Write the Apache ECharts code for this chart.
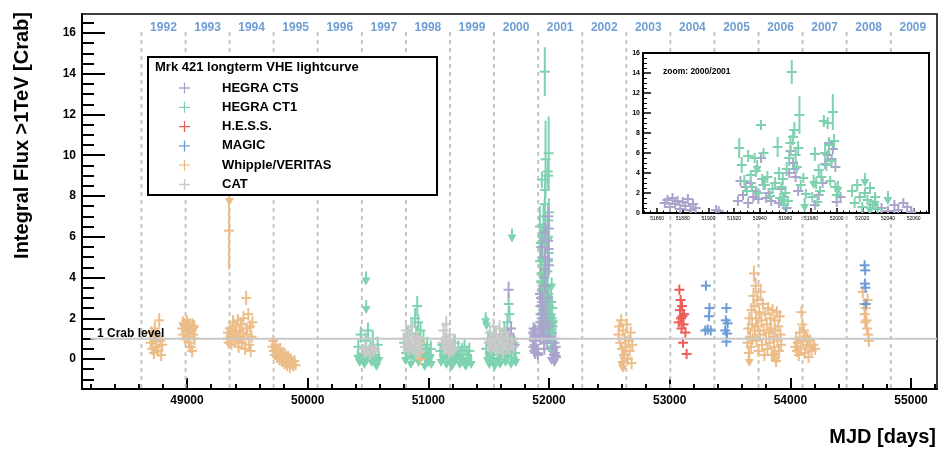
<!DOCTYPE html>
<html><head><meta charset="utf-8">
<script src="https://cdn.jsdelivr.net/npm/echarts@6/dist/echarts.min.js"></script>
<style>html,body{margin:0;padding:0;background:#fff}#c{width:939px;height:452px}</style>
</head><body><div id="c"></div><script>
// ---------------- data (MJD, flux [Crab], error) ----------------
const seriesNames = ['HEGRA CTS', 'HEGRA CT1', 'H.E.S.S.', 'MAGIC', 'Whipple/VERITAS', 'CAT'];
const seriesColors = ['#aaa5cc', '#7fd2af', '#ec5d58', '#6b9cd8', '#ecbd89', '#c9c9c9'];

const ctsPts = [
  [51665,3.4,0.4],[51660,1.2,0.3],[51675,0.8,0.3],[51685,1.5,0.35],[51695,0.6,0.3],[51705,1.0,0.3],[51715,0.7,0.3],
  [51866,1.0,0.3],[51868,1.3,0.3],[51870,0.6,0.3],[51872,1.5,0.3],[51874,0.9,0.3],[51876,1.2,0.3],[51878,0.4,0.3],
  [51880,1.1,0.3],[51882,0.7,0.3],[51884,1.4,0.3],[51886,0.3,0.3],[51888,0.9,0.3],[51890,0.5,0.3],[51906,0.3,0.2],[51908,0.2,0.2],
  [51923,1.2,0.3],[51925,3.2,0.4],[51927,1.8,0.3],[51929,2.6,0.4],[51931,1.0,0.3],[51933,3.0,0.4],[51935,1.6,0.3],
  [51937,2.2,0.3],[51939,1.4,0.3],[51941,5.5,0.5],[51943,2.8,0.4],[51945,1.5,0.3],[51947,2.0,0.3],[51949,1.2,0.3],
  [51955,1.0,0.3],[51957,2.4,0.4],[51959,1.6,0.3],[51961,0.5,0.3],[51963,4.0,0.5],[51964,6.2,0.5],[51966,5.0,0.5],
  [51967,4.4,0.5],[51968,3.6,0.4],[51970,2.2,0.4],
  [51983,0.8,0.3],[51986,1.8,0.3],[51989,3.0,0.4],[51991,4.9,0.5],[51993,5.8,0.5],[51994,7.0,0.5],[51996,5.4,0.5],
  [51997,6.4,0.5],[51999,4.6,0.5],[52000,1.1,0.3],[52003,1.6,0.3],
  [52035,0.5,0.3],[52040,0.2,0.3],[52045,0.8,0.3],[52048,0.3,0.3],[52052,1.0,0.3],[52055,0.6,0.3],[52058,0.1,0.3]
];
const ctsUL = [[52020,0.4],[52045,0.3],[52060,0.5]];

const ct1Pts = [
  [50420,0.6,0.4],[50440,1.2,0.4],[50460,0.3,0.4],[50480,0.9,0.4],[50500,1.4,0.4],[50520,0.5,0.4],[50540,1.0,0.4],[50560,0.2,0.4],[50580,0.7,0.4],
  [50800,0.8,0.4],[50815,0.3,0.4],[50830,1.2,0.4],[50845,0.6,0.4],[50860,1.6,0.4],[50875,0.4,0.4],[50890,2.0,0.5],[50900,1.1,0.4],
  [50908,2.6,0.5],[50915,1.8,0.4],[50925,0.9,0.4],[50935,1.4,0.4],[50945,0.5,0.4],[50960,1.0,0.4],[50975,0.3,0.4],[50990,0.7,0.4],[51005,0.2,0.4],[51020,0.5,0.4],
  [51100,0.4,0.4],[51115,0.7,0.4],[51130,0.2,0.4],[51145,0.9,0.4],[51160,0.5,0.4],[51175,0.1,0.4],[51190,0.6,0.4],[51205,0.3,0.4],
  [51220,0.8,0.4],[51235,0.2,0.4],[51250,0.5,0.4],[51265,0.0,0.4],[51280,0.4,0.4],[51300,0.6,0.4],[51320,0.2,0.4],[51340,0.4,0.4],
  [51480,0.5,0.4],[51495,1.0,0.4],[51510,0.3,0.4],[51525,0.8,0.4],[51540,0.4,0.4],[51555,1.2,0.4],[51570,0.6,0.4],[51585,0.2,0.4],
  [51600,0.9,0.4],[51615,0.4,0.4],[51630,1.4,0.4],[51645,0.7,0.4],[51655,1.8,0.4],[51665,2.7,0.5],[51672,2.2,0.4],[51680,1.1,0.4],
  [51690,0.5,0.4],[51705,0.8,0.4],[51720,0.3,0.4],
  [51924,6.5,1.0],[51926,4.8,0.8],[51928,3.2,0.6],[51930,2.2,0.5],[51931,5.7,0.6],[51933,3.8,0.5],[51934,2.6,0.5],[51936,5.5,0.5],
  [51937,4.2,0.6],[51939,2.0,0.5],[51941,8.8,0.4],[51942,3.4,0.5],[51943,6.0,0.5],[51944,2.8,0.5],[51946,3.6,0.6],[51948,1.7,0.4],[51950,2.4,0.5],
  [51952,3.0,0.6],[51954,6.6,1.0],[51955,4.0,0.6],[51956,1.5,0.5],[51957,2.6,0.5],[51958,3.4,0.6],[51959,0.8,0.4],[51960,2.0,0.5],
  [51961,4.4,0.7],[51962,1.2,0.5],[51963,5.5,0.8],[51964,7.0,0.8],[51965,14.1,1.2],[51966,7.6,0.8],[51967,8.3,0.8],[51968,5.8,0.7],
  [51969,4.6,0.6],[51970,6.5,0.7],[51971,9.8,1.9],[51972,2.8,0.4],[51974,3.5,0.5],[51976,1.9,0.4],
  [51981,1.6,0.5],[51983,5.9,0.7],[51984,3.0,0.6],[51985,1.1,0.5],[51986,4.3,0.6],[51987,2.2,0.5],[51988,3.6,0.6],[51990,9.2,0.6],
  [51991,6.0,0.7],[51992,4.8,0.6],[51993,9.0,0.6],[51994,6.8,0.8],[51995,3.2,0.5],[51996,5.2,0.6],[51997,10.1,1.8],[51998,7.2,0.7],
  [51999,2.6,0.5],[52000,1.8,0.4],
  [52012,2.2,0.6],[52014,1.0,0.5],[52016,2.8,0.6],[52018,1.6,0.5],[52020,0.6,0.4],[52022,2.0,0.5],[52024,1.3,0.5],[52026,2.5,0.6],
  [52028,0.8,0.4],[52030,1.6,0.5],[52032,0.4,0.4]
];
const ct1UL = [
  [50483,4.3],[50485,2.9],[50415,0.5],[50430,0.3],[50450,0.6],[50470,0.2],[50490,0.4],[50510,0.7],[50530,0.3],[50550,0.5],[50570,0.1],[50590,0.4],
  [50810,0.4],[50835,0.6],[50855,0.2],[50880,0.5],[50905,1.6],[50920,0.3],[50950,0.6],[50970,0.1],[50985,0.4],[51000,0.3],[51015,0.5],[51025,0.2],
  [51105,0.3],[51125,0.5],[51150,0.2],[51170,0.4],[51195,0.1],[51215,0.3],[51240,0.5],[51260,0.2],[51290,0.3],[51310,0.1],[51330,0.4],[51355,0.2],
  [51475,2.3],[51482,2.1],[51693,6.4],[51490,0.4],[51505,0.2],[51520,0.6],[51535,0.3],[51550,0.1],[51575,0.4],[51595,0.2],[51620,0.5],
  [51640,0.3],[51660,0.6],[51685,0.2],[51710,0.4],[51725,0.3],
  [51938,5.3],[51958,2.0],[51975,1.5],[51982,3.8],[52001,3.2],[52022,4.0],[52026,1.2],[52030,1.8],[52040,2.2]
];

const hessPts = [
  [53075,1.8,0.2],[53080,3.4,0.25],[53085,2.4,0.2],[53090,2.9,0.25],[53094,2.0,0.2],[53098,1.5,0.2],[53102,2.6,0.2],
  [53106,2.1,0.2],[53110,0.8,0.2],[53115,1.7,0.2],[53120,2.2,0.2],[53140,0.25,0.2],[53130,1.3,0.2]
];

const magicPts = [
  [53300,3.6,0.2],[53330,2.5,0.2],[53325,2.1,0.2],[53295,1.4,0.15],[53315,1.45,0.15],[53340,1.4,0.15],
  [53470,2.5,0.2],[53465,1.9,0.2],[53480,1.75,0.2],[53460,1.4,0.15],[53475,1.25,0.15],[53470,0.85,0.15],
  [54615,4.6,0.2],[54620,4.35,0.2],[54618,3.7,0.2],[54622,3.5,0.2],[54625,2.7,0.2]
];

const whipPts = [
  [48698,0.8,0.3],[48705,1.3,0.3],[48712,0.5,0.3],[48720,1.0,0.3],[48726,0.3,0.3],[48733,1.5,0.35],[48740,0.9,0.25],
  [48748,0.6,0.3],[48755,1.1,0.3],[48762,0.4,0.3],[48770,1.9,0.35],[48778,0.9,0.3],[48786,0.2,0.3],[48795,0.7,0.3],
  [48962,1.5,0.3],[48968,1.2,0.3],[48975,1.7,0.3],[48982,1.0,0.25],[48990,1.4,0.3],[48996,1.9,0.3],[49003,1.1,0.3],[49010,1.6,0.3],
  [49016,0.8,0.3],[49023,1.3,0.3],[49030,0.6,0.3],[49036,1.5,0.3],[49043,0.4,0.3],[49050,1.2,0.3],[49057,1.6,0.3],[49063,1.0,0.3],
  [49348,6.3,1.9],
  [49335,1.0,0.3],[49340,1.3,0.3],[49345,0.8,0.3],[49355,1.5,0.3],[49362,1.1,0.3],[49368,0.7,0.25],[49375,1.4,0.3],[49382,1.8,0.35],
  [49388,1.2,0.3],[49395,0.9,0.3],[49402,1.6,0.3],[49408,1.3,0.3],[49415,1.0,0.3],[49422,1.9,0.3],[49428,0.6,0.3],[49435,1.4,0.3],
  [49442,1.1,0.3],[49448,1.7,0.3],[49455,0.8,0.3],[49462,1.3,0.3],[49468,2.0,0.35],[49475,1.0,0.3],[49482,0.5,0.3],[49490,3.0,0.35],
  [49495,1.5,0.3],[49500,1.2,0.3],[49508,2.2,0.3],[49515,0.7,0.3],[49522,1.6,0.3],[49528,0.4,0.3],[49535,1.1,0.3],[49542,1.8,0.3],
  [49708,0.6,0.3],[49714,0.9,0.3],[49720,0.4,0.3],[49727,0.2,0.25],[49733,0.7,0.3],[49740,0.5,0.3],[49746,0.1,0.3],[49752,0.4,0.3],
  [49760,0.3,0.25],[49766,0.0,0.3],[49772,0.5,0.3],[49780,0.2,0.3],[49786,-0.1,0.3],[49793,0.3,0.3],[49800,0.1,0.3],[49808,-0.2,0.3],
  [49815,0.2,0.3],[49822,0.0,0.25],[49830,-0.3,0.3],[49838,0.1,0.3],[49845,-0.1,0.3],[49853,-0.4,0.3],[49860,0.0,0.3],[49870,-0.2,0.3],
  [49880,-0.3,0.3],[49890,-0.1,0.3],[49900,-0.3,0.25],
  [50910,1.0,0.3],[50918,0.6,0.3],[50925,0.3,0.3],[50932,0.0,0.3],[50938,0.8,0.3],
  [52575,1.2,0.3],[52582,1.6,0.3],[52590,0.8,0.3],[52598,1.9,0.3],[52605,0.5,0.3],[52612,1.4,0.3],[52620,0.2,0.3],[52628,1.0,0.3],
  [52636,0.6,0.25],[52644,1.7,0.3],[52652,0.0,0.3],[52660,0.9,0.3],[52668,0.4,0.3],[52676,1.3,0.3],[52684,-0.2,0.3],[52690,0.7,0.3],
  [53645,0.8,0.3],[53650,1.5,0.3],[53655,0.3,0.3],[53660,2.0,0.3],[53666,1.1,0.3],[53672,0.6,0.3],[53678,2.4,0.35],[53683,1.7,0.3],
  [53688,1.0,0.3],[53694,3.1,0.4],[53698,4.2,0.4],[53702,2.6,0.35],[53706,1.4,0.3],[53712,3.6,0.4],[53716,2.0,0.3],[53720,0.9,0.3],
  [53726,2.9,0.35],[53730,1.6,0.3],[53736,0.4,0.3],[53742,2.3,0.3],[53748,1.2,0.3],[53754,3.3,0.4],[53760,1.9,0.3],[53766,0.7,0.3],
  [53772,2.7,0.3],[53778,1.4,0.3],[53785,0.2,0.3],
  [53792,2.2,0.3],[53798,1.0,0.3],[53804,1.7,0.3],[53810,0.5,0.3],[53816,2.5,0.3],[53822,1.3,0.3],[53828,0.8,0.3],[53834,2.0,0.3],
  [53840,1.5,0.3],[53846,0.2,0.3],[53852,2.4,0.3],[53858,1.1,0.3],[53864,0.6,0.3],[53870,1.9,0.3],[53876,1.4,0.3],[53882,-0.1,0.3],
  [53888,2.3,0.3],[53894,0.9,0.3],[53900,1.6,0.3],[53906,0.4,0.3],[53912,2.1,0.3],[53918,1.2,0.3],[53924,0.7,0.3],
  [54040,0.6,0.3],[54048,1.0,0.3],[54055,0.4,0.3],[54062,0.8,0.3],[54070,0.2,0.3],[54078,1.3,0.3],[54085,0.5,0.3],[54092,2.3,0.3],
  [54098,1.7,0.3],[54105,0.9,0.3],[54112,1.4,0.3],[54120,0.3,0.3],[54128,1.1,0.3],[54135,0.7,0.3],[54142,1.0,0.3],[54150,0.1,0.3],
  [54158,0.6,0.3],[54165,0.9,0.3],[54175,0.4,0.3],[54190,0.7,0.3],[54205,0.5,0.3],
  [54600,3.3,0.3],[54610,2.7,0.3],[54615,2.2,0.3],[54620,1.8,0.3],[54625,2.5,0.3],[54630,1.9,0.3],[54635,1.5,0.3],[54640,2.9,0.3],
  [54645,1.2,0.3],[54650,0.9,0.3]
];
const whipUL = [
  [48965,2.1],[48978,2.0],[49000,2.1],[49020,2.0],[49045,2.0],[49060,1.9],[49352,8.2],
  [52602,0.2],[52612,0.0],[52622,0.4],[53660,0.3],[53870,0.6],[53880,0.4]
];

const catPts = [
  [50455,0.5,0.25],[50470,0.3,0.2],[50485,0.6,0.25],[50500,0.4,0.2],[50515,0.2,0.25],[50530,0.55,0.25],[50545,0.35,0.2],[50560,0.5,0.2],
  [50795,1.0,0.3],[50805,0.6,0.3],[50815,1.4,0.35],[50825,0.8,0.3],[50835,0.4,0.25],[50845,1.2,0.3],[50855,0.7,0.3],[50865,1.6,0.35],
  [50875,0.5,0.3],[50885,0.9,0.3],[50895,0.3,0.3],[50905,1.1,0.3],[50915,0.6,0.3],[50925,0.8,0.3],[50935,0.4,0.3],
  [51115,0.8,0.3],[51125,1.4,0.4],[51133,0.5,0.3],[51140,1.0,0.3],[51148,1.7,0.4],[51155,0.6,0.3],[51163,0.9,0.3],[51170,0.3,0.3],
  [51178,1.2,0.3],[51186,0.7,0.3],[51195,0.4,0.3],[51205,0.8,0.3],[51215,0.5,0.3],
  [51500,0.8,0.3],[51510,1.3,0.4],[51520,0.5,0.3],[51530,1.0,0.3],[51540,1.6,0.4],[51550,0.6,0.3],[51560,1.2,0.3],[51570,0.4,0.3],
  [51580,0.9,0.3],[51590,1.5,0.4],[51600,0.7,0.3],[51610,1.1,0.3],[51620,0.3,0.3],[51630,0.8,0.3],[51640,1.3,0.3],[51650,0.6,0.3],
  [51660,1.0,0.3],[51675,0.5,0.3],[51690,0.9,0.3],[51705,0.6,0.3]
];

// year boundaries (MJD of 1 Jan) and labels
const yearLabels = ['1992','1993','1994','1995','1996','1997','1998','1999','2000','2001','2002','2003','2004','2005','2006','2007','2008','2009'];
const yearStarts = [48622,48988,49353,49718,50083,50449,50814,51179,51544,51910,52275,52640,53005,53371,53736,54101,54466,54832,55197];

// axis tick labels
const xTickLabels = [49000,50000,51000,52000,53000,54000,55000];
const yTickLabels = [0,2,4,6,8,10,12,14,16];
const insetXTickLabels = [51860,51880,51900,51920,51940,51960,51980,52000,52020,52040,52060];
const crabLevel = 1;

// ---------------- layout constants ----------------
const X_MIN = 48130, X_MAX = 55215, Y_MIN = -1.47, Y_MAX = 16.93;
const IX_MIN = 51849, IX_MAX = 52072;
const FONT = "'Liberation Sans', Arial, Helvetica, sans-serif";

const yearMids = yearLabels.map((_, i) => (yearStarts[i] + yearStarts[i + 1]) / 2);
const xMinor = []; for (let v = 48200; v <= 55200; v += 200) if (v % 1000) xMinor.push(v);
const yMinor = []; for (let v = -1; v <= 16.5; v += 0.5) if (Math.abs(v % 2) > 1e-9) yMinor.push(v);
const ixMinor = []; for (let v = 51850; v <= 52070; v += 5) if (v % 20) ixMinor.push(v);
const plain = v => String(v);

function makeRender(lw, hw) {
  return function (params, api) {
    const x = api.value(0), y = api.value(1), e = api.value(2), ul = api.value(3);
    const c = api.visual('color');
    const p = api.coord([x, y]);
    if (ul) {
      return { type: 'group', children: [
        { type: 'line', shape: { x1: p[0], y1: p[1], x2: p[0], y2: p[1] + 8 }, style: { stroke: c, lineWidth: lw } },
        { type: 'polygon', shape: { points: [[p[0] - 4.5, p[1] + 6], [p[0] + 4.5, p[1] + 6], [p[0], p[1] + 14]] }, style: { fill: c } }
      ]};
    }
    const t = api.coord([x, y + e])[1], b = api.coord([x, y - e])[1];
    return { type: 'group', children: [
      { type: 'line', shape: { x1: p[0] - hw, y1: p[1], x2: p[0] + hw, y2: p[1] }, style: { stroke: c, lineWidth: lw } },
      { type: 'line', shape: { x1: p[0], y1: Math.min(t, p[1] - hw), x2: p[0], y2: Math.max(b, p[1] + hw) }, style: { stroke: c, lineWidth: lw } }
    ]};
  };
}

function errSeries(idx, pts, uls, xi, yi, z) {
  return {
    type: 'custom', name: seriesNames[idx], xAxisIndex: xi, yAxisIndex: yi, clip: true, z: z,
    itemStyle: { color: seriesColors[idx] }, renderItem: makeRender(2, 5), encode: { x: 0, y: 1 },
    data: pts.map(d => [d[0], d[1], d[2], 0]).concat(uls.map(d => [d[0], d[1], 0, 1]))
  };
}

const chart = echarts.init(document.getElementById('c'), null, { renderer: 'canvas' });
const tickLbl = { fontFamily: FONT, fontWeight: 'bold', fontSize: 12, color: '#000', formatter: plain };

chart.setOption({
  animation: false,
  grid: [
    { left: 82, top: 14, width: 855, height: 375, show: true, borderColor: '#000', borderWidth: 1.5, backgroundColor: 'transparent', z: 0 },
    { left: 643, top: 53, width: 286, height: 160, show: true, borderColor: '#000', borderWidth: 2, backgroundColor: '#fff', z: 3 }
  ],
  xAxis: [
    { type: 'value', gridIndex: 0, min: X_MIN, max: X_MAX, position: 'bottom',
      axisLine: { show: true, onZero: false, lineStyle: { color: '#000', width: 2 } },
      axisTick: { show: true, inside: true, length: 11, customValues: xTickLabels, lineStyle: { color: '#000', width: 2 } },
      axisLabel: Object.assign({ customValues: xTickLabels, margin: 6 }, tickLbl), splitLine: { show: false } },
    { type: 'value', gridIndex: 0, min: X_MIN, max: X_MAX, position: 'bottom',
      axisLine: { show: false, onZero: false }, axisTick: { show: true, inside: true, length: 5, customValues: xMinor, lineStyle: { color: '#000', width: 2 } },
      axisLabel: { show: false }, splitLine: { show: false } },
    { type: 'value', gridIndex: 0, min: X_MIN, max: X_MAX, position: 'top',
      axisLine: { show: false, onZero: false }, axisTick: { show: false }, splitLine: { show: false },
      axisLabel: { inside: true, margin: 8, customValues: yearMids, fontFamily: FONT, fontWeight: 'bold', fontSize: 12, color: '#6f9ed4',
        formatter: v => { const i = yearMids.findIndex(m => Math.abs(m - v) < 0.01); return i >= 0 ? yearLabels[i] : ''; } } },
    { type: 'value', gridIndex: 1, min: IX_MIN, max: IX_MAX, position: 'bottom', z: 4,
      axisLine: { show: true, onZero: false, lineStyle: { color: '#000', width: 2 } },
      axisTick: { show: true, inside: true, length: 5, customValues: insetXTickLabels, lineStyle: { color: '#000', width: 1.5 } },
      axisLabel: { customValues: insetXTickLabels, margin: 3, fontFamily: FONT, fontSize: 5, color: '#000', formatter: plain }, splitLine: { show: false } },
    { type: 'value', gridIndex: 1, min: IX_MIN, max: IX_MAX, position: 'bottom', z: 4,
      axisLine: { show: false, onZero: false }, axisTick: { show: true, inside: true, length: 2.5, customValues: ixMinor, lineStyle: { color: '#000', width: 1 } },
      axisLabel: { show: false }, splitLine: { show: false } }
  ],
  yAxis: [
    { type: 'value', gridIndex: 0, min: Y_MIN, max: Y_MAX, position: 'left',
      axisLine: { show: true, onZero: false, lineStyle: { color: '#000', width: 2 } },
      axisTick: { show: true, inside: true, length: 23, customValues: yTickLabels, lineStyle: { color: '#000', width: 2 } },
      axisLabel: Object.assign({ customValues: yTickLabels, margin: 6 }, tickLbl), splitLine: { show: false } },
    { type: 'value', gridIndex: 0, min: Y_MIN, max: Y_MAX, position: 'left',
      axisLine: { show: false, onZero: false }, axisTick: { show: true, inside: true, length: 12, customValues: yMinor, lineStyle: { color: '#000', width: 2 } },
      axisLabel: { show: false }, splitLine: { show: false } },
    { type: 'value', gridIndex: 1, min: 0, max: 16, interval: 2, position: 'left', z: 4,
      axisLine: { show: true, onZero: false, lineStyle: { color: '#000', width: 2 } },
      axisTick: { show: true, inside: true, length: 8, lineStyle: { color: '#000', width: 1.5 } },
      minorTick: { show: true, splitNumber: 4, length: 4, lineStyle: { color: '#000', width: 1 } },
      axisLabel: { margin: 3, fontFamily: FONT, fontWeight: 'bold', fontSize: 7, color: '#000' }, splitLine: { show: false } }
  ],
  legend: {
    data: seriesNames, orient: 'vertical', left: 179, top: 81, padding: 0, itemGap: 5.3,
    itemWidth: 11, itemHeight: 11, selectedMode: false, z: 5,
    icon: 'path://M4.4,0H5.6V4.4H10V5.6H5.6V10H4.4V5.6H0V4.4H4.4Z',
    textStyle: { fontFamily: FONT, fontWeight: 'bold', fontSize: 13, color: '#000', lineHeight: 14, padding: [0, 0, 0, 27] }
  },
  graphic: [
    { type: 'rect', z: 3, shape: { x: 148, y: 57, width: 289, height: 138 }, style: { fill: '#fff', stroke: '#000', lineWidth: 2 } },
    { type: 'text', z: 4, x: 155, y: 67, style: { text: 'Mrk 421 longterm VHE lightcurve', font: "bold 13px " + FONT, fill: '#000', verticalAlign: 'middle', align: 'left' } },
    { type: 'text', z: 6, x: 663, y: 72, style: { text: 'zoom: 2000/2001', font: "bold 8.5px " + FONT, fill: '#000', verticalAlign: 'middle', align: 'left' } },
    { type: 'text', z: 4, x: 22, y: 12, rotation: Math.PI / 2, style: { text: 'Integral Flux >1TeV [Crab]', font: "bold 20px " + FONT, fill: '#000', align: 'right', verticalAlign: 'middle' } },
    { type: 'text', z: 4, x: 936, y: 437, style: { text: 'MJD [days]', font: "bold 20px " + FONT, fill: '#000', align: 'right', verticalAlign: 'middle' } }
  ],
  series: [
    { type: 'custom', name: 'years', xAxisIndex: 0, yAxisIndex: 0, z: 1, silent: true, encode: { x: 0, y: 1 },
      data: yearStarts.slice(0, -1).map(v => [v, 0]),
      renderItem: (params, api) => {
        const a = api.coord([api.value(0), 16.05]), b = api.coord([api.value(0), Y_MIN]);
        return { type: 'line', shape: { x1: a[0], y1: a[1], x2: b[0], y2: b[1] }, style: { stroke: '#c4c4c4', lineWidth: 2, lineDash: [4, 4] } };
      } },
    errSeries(1, ct1Pts, ct1UL, 0, 0, 2),
    errSeries(0, ctsPts, ctsUL, 0, 0, 2),
    errSeries(4, whipPts, whipUL, 0, 0, 2),
    errSeries(5, catPts, [], 0, 0, 2),
    errSeries(2, hessPts, [], 0, 0, 2),
    errSeries(3, magicPts, [], 0, 0, 2),
    { type: 'line', name: 'crab', xAxisIndex: 0, yAxisIndex: 0, z: 2.5, silent: true, symbol: 'none',
      data: [[48200, crabLevel], [X_MAX, crabLevel]], lineStyle: { color: '#c8c8c8', width: 2 } },
    { type: 'custom', name: 'crabText', xAxisIndex: 0, yAxisIndex: 0, z: 2.6, silent: true, encode: { x: 0, y: 1 },
      data: [[48254, crabLevel]],
      renderItem: (params, api) => {
        const p = api.coord([api.value(0), api.value(1)]);
        return { type: 'text', x: p[0], y: p[1] - 5, style: { text: '1 Crab level', font: "bold 12px " + FONT, fill: '#000', align: 'left', verticalAlign: 'middle' } };
      } },
    errSeries(0, ctsPts, ctsUL, 3, 2, 5),
    errSeries(1, ct1Pts, ct1UL, 3, 2, 5)
  ]
});
</script></body></html>
